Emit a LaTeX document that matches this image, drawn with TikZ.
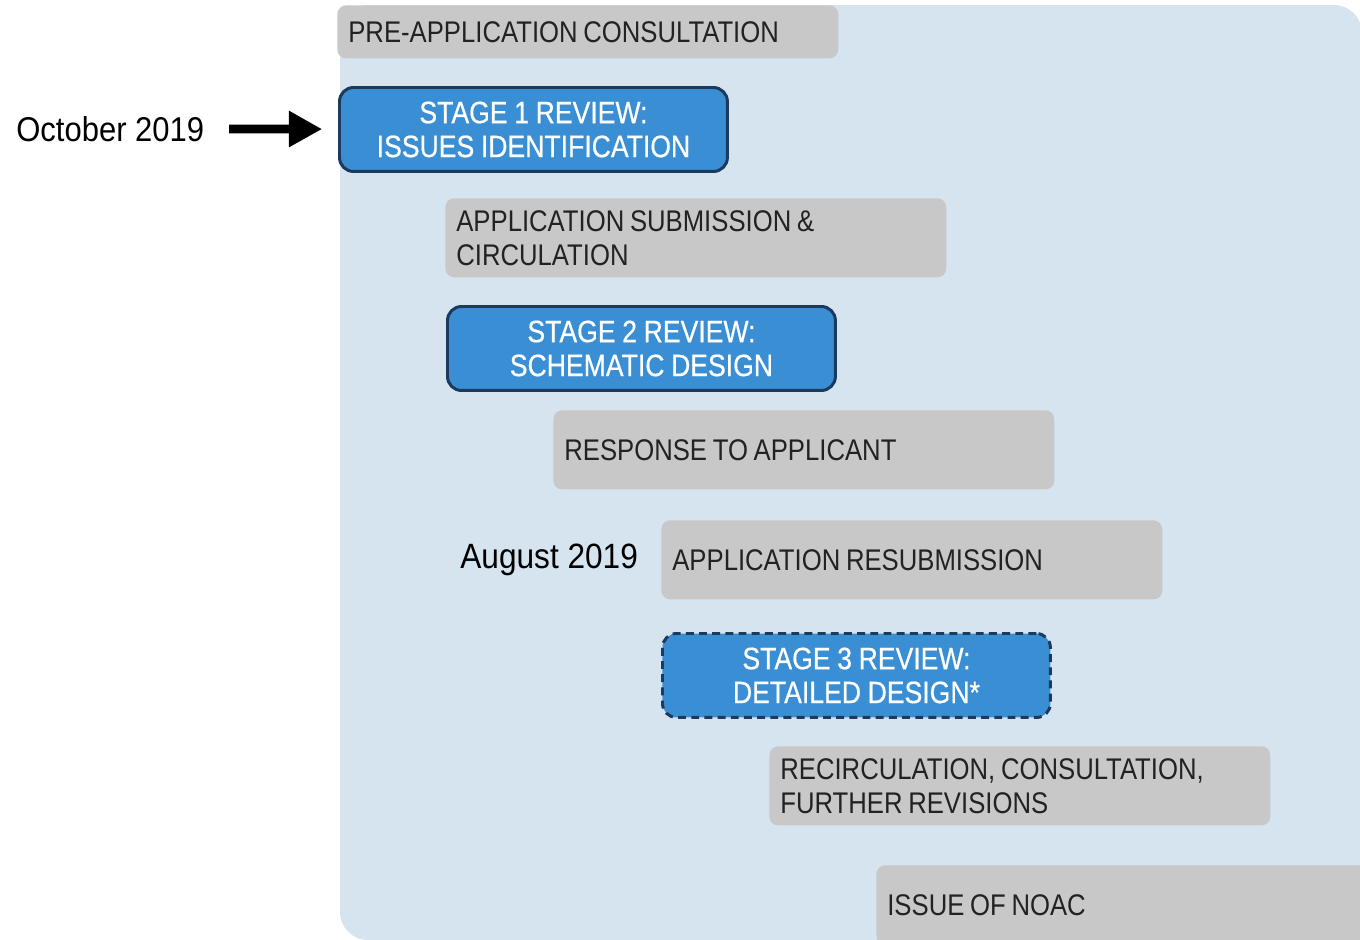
\documentclass[tikz,border=0pt]{standalone}
\usepackage{fontspec}
\setmainfont{Liberation Sans}
\newfontfamily\stepfont{Liberation Sans}[FakeStretch=0.86, WordSpace=0.8]
\newfontfamily\datefont{Liberation Sans}[FakeStretch=0.9]
\newfontfamily\stagefont{Liberation Sans}[FakeStretch=0.86, FakeBold=0.5, WordSpace=0.9]
\usetikzlibrary{arrows.meta}
\definecolor{bgblue}{RGB}{214,228,240}
\definecolor{boxgray}{RGB}{200,200,200}
\definecolor{stagefill}{RGB}{58,143,212}
\definecolor{stageedge}{RGB}{27,58,92}
\definecolor{txtdark}{RGB}{34,34,34}

\begin{document}
\begin{tikzpicture}[x=0.02cm, y=-0.02cm,
    stepgray/.style={fill=boxgray, rounded corners=5pt, anchor=north west,
        inner xsep=0.22cm, inner ysep=0pt, text width=9.58cm, minimum height=1.58cm,
        align=flush left, text=txtdark, font=\stepfont\fontsize{17}{19.3}\selectfont},
    stagebox/.style={fill=stagefill, draw=stageedge, line width=1.7pt, rounded corners=8pt,
        anchor=north west, minimum width=7.76cm, minimum height=1.68cm, inner sep=0pt,
        align=flush center, text=white, font=\stagefont\fontsize{17.6}{19.3}\selectfont},
    datelabel/.style={text=black, anchor=base west, inner sep=0pt}]
    \useasboundingbox (0,0) rectangle (1360,940);
    % Light blue panel behind the steps
    \fill[bgblue, rounded corners=16pt] (340,5) rectangle (1362,940);

    % Steps, each one shifted right and down
    \node[stepgray, minimum height=1.06cm] (preapp) at (337,5) {PRE-APPLICATION CONSULTATION};
    \node[stagebox] (stage1) at (338,86) {STAGE 1 REVIEW:\\ISSUES IDENTIFICATION};
    \node[stepgray] (submit) at (445,198) {APPLICATION SUBMISSION \&\\CIRCULATION};
    \node[stagebox] (stage2) at (446,305) {STAGE 2 REVIEW:\\SCHEMATIC DESIGN};
    \node[stepgray] (response) at (553,410) {RESPONSE TO APPLICANT};
    \node[stepgray] (resubmit) at (661,520) {APPLICATION RESUBMISSION};
    \node[stagebox, dash pattern=on 4.5pt off 3pt] (stage3) at (661,632) {STAGE 3 REVIEW:\\DETAILED DESIGN*};
    \node[stepgray] (recirc) at (769,746) {RECIRCULATION, CONSULTATION,\\FURTHER REVISIONS};
    \node[stepgray] (noac) at (876,865) {ISSUE OF NOAC};

    % Dates
    \node[datelabel, font=\datefont\fontsize{19.6}{22}\selectfont] (oct) at (16,141) {October 2019};
    \node[datelabel, font=\datefont\fontsize{20}{22}\selectfont] (aug) at (460,568) {August 2019};
    \draw[line width=5pt, -{Triangle[length=19pt, width=19.5pt]},
        shorten <=14pt, shorten >=9pt] (oct) -- (stage1);
\end{tikzpicture}
\end{document}
